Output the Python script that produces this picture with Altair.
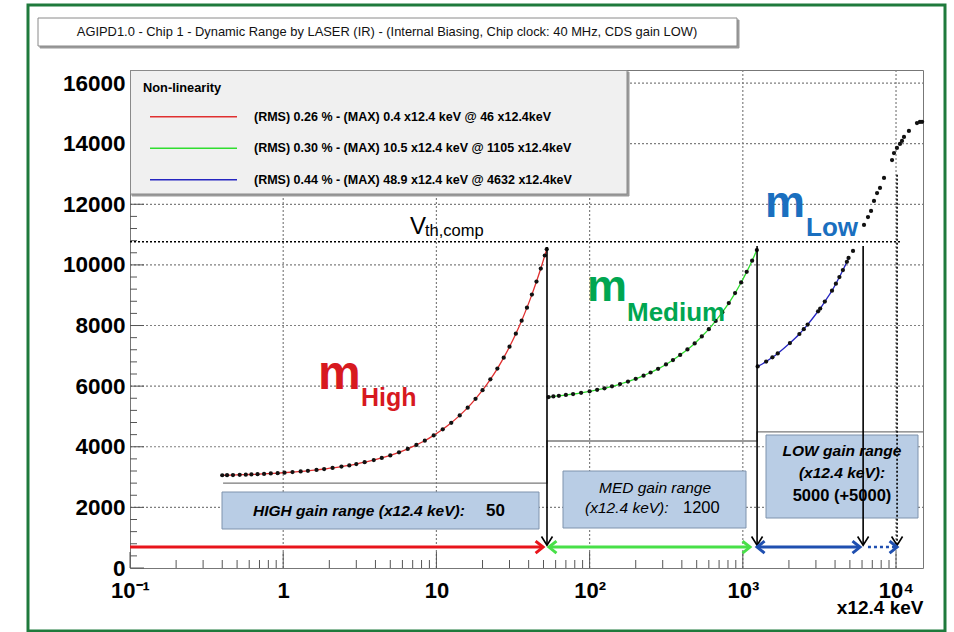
import altair as alt
import pandas as pd

FONT = "Liberation Sans"

# ---------------- values ----------------
high_x = [0.40, 0.43, 0.47, 0.52, 0.57, 0.62, 0.68, 0.75, 0.83, 0.92, 1.02, 1.15, 1.3, 1.45,
          1.65, 1.85, 2.1, 2.4, 2.7, 3.0, 3.4, 3.9, 4.4, 5.0, 5.7, 6.5, 7.4, 8.4, 9.6, 11.0,
          12.5, 14.2, 16.0, 18.0, 20.0, 22.5, 25.0, 27.5, 30.0, 33.0, 36.0, 39.0, 42.0, 45.0,
          48.0, 51.0, 52.5]
high_y = [3060, 3062, 3066, 3075, 3080, 3088, 3095, 3105, 3118, 3130, 3145, 3165, 3185, 3205,
          3235, 3265, 3300, 3345, 3385, 3430, 3490, 3560, 3630, 3715, 3815, 3930, 4060, 4200,
          4375, 4575, 4790, 5035, 5290, 5580, 5865, 6225, 6580, 6940, 7300, 7730, 8160, 8590,
          9020, 9450, 9880, 10310, 10520]

med_x = [54, 58, 63, 70, 78, 88, 100, 112, 125, 140, 158, 178, 200, 225, 250, 280, 315, 350,
         390, 435, 485, 540, 600, 665, 735, 810, 890, 975, 1060, 1150, 1235]
med_y = [5640, 5660, 5680, 5710, 5740, 5780, 5830, 5880, 5930, 5995, 6070, 6150, 6240, 6345,
         6450, 6570, 6715, 6860, 7030, 7210, 7410, 7640, 7880, 8150, 8440, 8740, 9070, 9420,
         9770, 10140, 10490]

low_x = [1250, 1420, 1560, 1690, 2030, 2340, 2500, 2650, 3100, 3200, 3430, 3820, 4050, 4270,
         4500, 4780, 4900]
low_y = [6650, 6810, 6950, 7080, 7420, 7720, 7880, 8030, 8470, 8560, 8790, 9150, 9380, 9600,
         9830, 10100, 10230]

sat_x = [5240, 6180, 6560, 6870, 7180, 7520, 7860, 8350, 9420, 9700, 10140, 10610, 10940,
         11270, 12140, 13700, 14320, 14800]
sat_y = [10460, 11320, 11580, 11780, 12110, 12370, 12540, 12870, 13460, 13690, 13860, 13990,
         14090, 14220, 14420, 14680, 14715, 14720]

gain_bit_x = [0.405, 52.7, 52.7, 1239, 1239, 15000]
gain_bit_y = [2800, 2800, 4190, 4190, 4490, 4490]

vth_value = 10760
vth_x = [0.1, 10900]

switch_x = [52.7, 1239, 6100]
switch_top = [10590, 10620, 10620]
extra_x = [10160]
extra_top = [12970]
arrow_tip = 750

range_y = 690
range_start = [0.1, 54.3, 1239]
range_end = [49.7, 1114, 5820]
range_colors = ["#e8141b", "#48e048", "#1f4fb0"]
ext_start = [6560]
ext_end = [10160]

legend_labels = [
    "(RMS) 0.26 % - (MAX) 0.4 x12.4 keV @ 46 x12.4keV",
    "(RMS) 0.30 % - (MAX) 10.5 x12.4 keV @ 1105 x12.4keV",
    "(RMS) 0.44 % - (MAX) 48.9 x12.4 keV @ 4632 x12.4keV",
]
fit_colors = ["#e03030", "#30dd30", "#2525c0"]

x_tick_vals = [0.1, 1, 10, 100, 1000, 10000]
x_tick_text = ["10\u207b\u00b9", "1", "10", "10\u00b2", "10\u00b3", "10\u2074"]
y_tick_vals = list(range(0, 16001, 2000))
x_minor = [m * 10.0 ** e for e in range(-1, 4) for m in range(2, 10)]
y_minor = [v for v in range(0, 16401, 400) if v % 2000 != 0]

TITLE = "AGIPD1.0 - Chip 1 - Dynamic Range by LASER (IR) - (Internal Biasing, Chip clock: 40 MHz, CDS gain LOW)"

# ---------------- scales & axes ----------------
W, H = 793, 498
xs = alt.Scale(type="log", domain=[0.1, 15000], nice=False)
ys = alt.Scale(domain=[0, 16430], nice=False, zero=False)

label_expr = " : ".join(f"datum.value == {v} ? '{t}'" for v, t in zip(x_tick_vals, x_tick_text)) + " : ''"

GRID_COLOR = "#7f7f7f"
x_axis = alt.Axis(values=x_tick_vals, labelExpr=label_expr, grid=False, ticks=False, domain=False,
                  labelFont=FONT, labelFontSize=22, labelFontWeight="bold", labelColor="black",
                  labelPadding=12, labelOverlap=False, labelFlush=False, title="x12.4 keV",
                  titleAnchor="end", titleFont=FONT, titleFontSize=19, titleFontWeight="bold",
                  titleColor="black", titlePadding=-3)
y_axis = alt.Axis(values=y_tick_vals, format="d", grid=False, ticks=False, domain=False,
                  labelFont=FONT, labelFontSize=22.5, labelFontWeight="bold", labelColor="black",
                  labelPadding=5, title=None)


def X(field):
    return alt.X(field, type="quantitative", scale=xs, axis=x_axis)


def Y(field):
    return alt.Y(field, type="quantitative", scale=ys, axis=y_axis)


dummy = pd.DataFrame({"d": [0]})


def txt(s, x, y, size, color="black", weight="normal", style="normal", align="left",
        baseline="middle"):
    return alt.Chart(dummy).mark_text(
        text=s, font=FONT, fontSize=size, fontWeight=weight, fontStyle=style, color=color,
        align=align, baseline=baseline
    ).encode(x=alt.value(x), y=alt.value(y))


def box(x1, x2, y1, y2, fill, stroke, sw=1):
    return alt.Chart(dummy).mark_rect(
        fill=fill, stroke=stroke, strokeWidth=sw
    ).encode(x=alt.value(x1), x2=alt.value(x2), y=alt.value(y1), y2=alt.value(y2))


# ---------------- frame decorations ----------------
outer = alt.Chart(dummy).mark_rect(filled=False, stroke="#1f7a3c", strokeWidth=3).encode(
    x=alt.value(-102), x2=alt.value(815), y=alt.value(-65), y2=alt.value(561))
title_shadow = box(-90, 609, -50, -22, "#9a9a9a", "#9a9a9a", 1)
title_box = box(-92, 607, -52, -24, "white", "#8a8a8a", 1)
title_text = txt(TITLE, 257, -38, 12.9, color="#111111", align="center")

# ---------------- grid (dotted) ----------------
x_grid = alt.Chart(pd.DataFrame({"x": x_tick_vals[1:]})).mark_rule(
    color=GRID_COLOR, strokeWidth=1.2, strokeDash=[2, 2], opacity=1).encode(
    x=X("x"), y=alt.value(0), y2=alt.value(H))
y_grid = alt.Chart(pd.DataFrame({"y": y_tick_vals[1:]})).mark_rule(
    color=GRID_COLOR, strokeWidth=1.2, strokeDash=[2, 2], opacity=1).encode(
    y=Y("y"), x=alt.value(0), x2=alt.value(W))

# ---------------- inward ticks ----------------
xt_major = alt.Chart(pd.DataFrame({"x": x_tick_vals})).mark_rule(color="#555", strokeWidth=1).encode(
    x=X("x"), y=alt.value(H), y2=alt.value(H - 16))
xt_minor = alt.Chart(pd.DataFrame({"x": x_minor})).mark_rule(color="#555", strokeWidth=1).encode(
    x=X("x"), y=alt.value(H), y2=alt.value(H - 8))
yt_major = alt.Chart(pd.DataFrame({"y": y_tick_vals})).mark_rule(color="#555", strokeWidth=1).encode(
    y=Y("y"), x=alt.value(0), x2=alt.value(14))
yt_minor = alt.Chart(pd.DataFrame({"y": y_minor})).mark_rule(color="#555", strokeWidth=1).encode(
    y=Y("y"), x=alt.value(0), x2=alt.value(7))

# ---------------- legend background ----------------
leg_shadow = box(2, 499, 2, 126, "#9a9a9a", "#9a9a9a", 1)
leg_bg = box(0.5, 497, 0.5, 124, "#f0f0f0", "#8a8a8a", 1)

# ---------------- gain bit line & threshold ----------------
gain_df = pd.DataFrame({"x": gain_bit_x, "y": gain_bit_y, "i": list(range(len(gain_bit_x)))})
gain_line = alt.Chart(gain_df).mark_line(color="#7a7a7a", strokeWidth=1.4).encode(
    x=X("x"), y=Y("y"), order="i:Q")

vth_df = pd.DataFrame({"x": [vth_x[0]], "x2": [vth_x[1]], "y": [vth_value]})
vth_line = alt.Chart(vth_df).mark_rule(color="black", strokeWidth=1.5, strokeDash=[2, 2]).encode(
    x=X("x"), x2="x2:Q", y=Y("y"))

# ---------------- range boxes ----------------
BOX_FILL, BOX_STROKE = "#b9cde5", "#7f93ad"
high_box = box(92, 409, 422, 459, BOX_FILL, BOX_STROKE)
med_box = box(433, 616, 401, 458, BOX_FILL, BOX_STROKE)
low_box = box(636, 788, 365, 448, BOX_FILL, BOX_STROKE)
box_texts = [
    txt("HIGH gain range (x12.4 keV):", 123, 441, 15.5, weight="bold", style="italic"),
    txt("50", 356, 441, 17, weight="bold"),
    txt("MED gain range", 525, 418, 15.5, style="italic", align="center"),
    txt("(x12.4 keV):", 455, 438, 15.5, style="italic"),
    txt("1200", 553, 438, 16.5),
    txt("LOW gain range", 712, 381, 15.5, weight="bold", style="italic", align="center"),
    txt("(x12.4 keV):", 712, 403, 15.5, weight="bold", style="italic", align="center"),
    txt("5000 (+5000)", 712, 426, 16.5, weight="bold", align="center"),
]

# ---------------- fits & points ----------------
fit_df = pd.concat([
    pd.DataFrame({"x": high_x, "y": high_y, "series": legend_labels[0]}),
    pd.DataFrame({"x": med_x, "y": med_y, "series": legend_labels[1]}),
    pd.DataFrame({"x": low_x, "y": low_y, "series": legend_labels[2]}),
])
fits = alt.Chart(fit_df).mark_line(strokeWidth=1.3, interpolate="monotone").encode(
    x=X("x"),
    y=Y("y"),
    color=alt.Color("series:N", scale=alt.Scale(domain=legend_labels, range=fit_colors),
                    sort=legend_labels,
                    legend=alt.Legend(title="Non-linearity", orient="none", legendX=13, legendY=12,
                                      direction="vertical", symbolType="stroke",
                                      symbolSize=87 * 87, symbolStrokeWidth=1.5, clipHeight=14,
                                      rowPadding=17.5, symbolOffset=6, labelOffset=16,
                                      labelFont=FONT, labelFontSize=12.5, labelFontWeight="bold",
                                      labelColor="black", labelLimit=700, titleFont=FONT,
                                      titleFontSize=12.8, titleFontWeight="bold",
                                      titleColor="black", titlePadding=15, padding=0)),
)

pts_df = pd.DataFrame({"x": high_x + med_x + low_x + sat_x, "y": high_y + med_y + low_y + sat_y})
pts = alt.Chart(pts_df).mark_circle(size=18, color="#111111", opacity=1).encode(
    x=X("x"), y=Y("y"))

# ---------------- switching arrows ----------------
V_HEAD = "M-1,-1.6L0,0L1,-1.6"
R_HEAD = "M-1.25,-1L0,0L-1.25,1"
L_HEAD = "M1.25,-1L0,0L1.25,1"

sw_df = pd.DataFrame({"x": switch_x, "top": switch_top, "tip": [arrow_tip] * len(switch_x)})
sw_lines = alt.Chart(sw_df).mark_rule(color="black", strokeWidth=1.6).encode(
    x=X("x"), y=Y("top"), y2="tip:Q")
ex_df = pd.DataFrame({"x": extra_x, "top": extra_top, "tip": [arrow_tip] * len(extra_x)})
ex_lines = alt.Chart(ex_df).mark_rule(color="black", strokeWidth=1.6, strokeDash=[2, 2]).encode(
    x=X("x"), y=Y("top"), y2="tip:Q")
heads_df = pd.DataFrame({"x": switch_x + extra_x, "tip": [arrow_tip] * (len(switch_x) + len(extra_x))})
v_heads = alt.Chart(heads_df).mark_point(shape=V_HEAD, size=121, filled=False, color="black",
                                         strokeWidth=1.6, opacity=1).encode(
    x=X("x"), y=Y("tip"))

rng_df = pd.DataFrame({"x": range_start, "x2": range_end, "y": [range_y] * 3, "c": range_colors})
rng_lines = alt.Chart(rng_df).mark_rule(strokeWidth=3).encode(
    x=X("x"), x2="x2:Q", y=Y("y"), color=alt.Color("c:N", scale=None))
rhead_df = pd.DataFrame({"x": range_end + ext_end, "y": [range_y] * 4, "c": range_colors + [range_colors[2]]})
r_heads = alt.Chart(rhead_df).mark_point(shape=R_HEAD, size=144, filled=False, strokeWidth=3,
                                         opacity=1).encode(
    x=X("x"), y=Y("y"), color=alt.Color("c:N", scale=None))
lhead_df = pd.DataFrame({"x": range_start[1:], "y": [range_y] * 2, "c": range_colors[1:]})
l_heads = alt.Chart(lhead_df).mark_point(shape=L_HEAD, size=144, filled=False, strokeWidth=3,
                                         opacity=1).encode(
    x=X("x"), y=Y("y"), color=alt.Color("c:N", scale=None))
ext_df = pd.DataFrame({"x": ext_start, "x2": ext_end, "y": [range_y]})
ext_line = alt.Chart(ext_df).mark_rule(strokeWidth=2.5, strokeDash=[3, 3], color=range_colors[2]).encode(
    x=X("x"), x2="x2:Q", y=Y("y"))

# ---------------- big labels ----------------
labels = [
    txt("m", 188, 319, 48, color="#d7191f", weight="bold", baseline="alphabetic"),
    txt("High", 231, 336, 25, color="#d7191f", weight="bold", baseline="alphabetic"),
    txt("m", 457, 231, 45, color="#00a651", weight="bold", baseline="alphabetic"),
    txt("Medium", 497, 251, 26, color="#00a651", weight="bold", baseline="alphabetic"),
    txt("m", 635, 147, 45, color="#1a6fbf", weight="bold", baseline="alphabetic"),
    txt("Low", 676, 166, 26, color="#1a6fbf", weight="bold", baseline="alphabetic"),
    txt("V", 280, 164, 24, baseline="alphabetic"),
    txt("th,comp", 295, 166, 16.5, baseline="alphabetic"),
]

chart = alt.layer(
    outer, title_shadow, title_box, title_text,
    x_grid, y_grid,
    xt_major, xt_minor, yt_major, yt_minor,
    leg_shadow, leg_bg,
    gain_line, vth_line,
    high_box, med_box, low_box, *box_texts,
    fits, pts,
    sw_lines, ex_lines, v_heads,
    rng_lines, ext_line, r_heads, l_heads,
    *labels,
).properties(
    width=W, height=H,
    padding={"left": 130, "top": 70, "right": 31, "bottom": 64},
    autosize=alt.AutoSizeParams(type="none"),
    background="white",
).configure_view(stroke="#777777", strokeWidth=1)

chart.save("out.html", embed_options={"renderer": "svg", "actions": False})
